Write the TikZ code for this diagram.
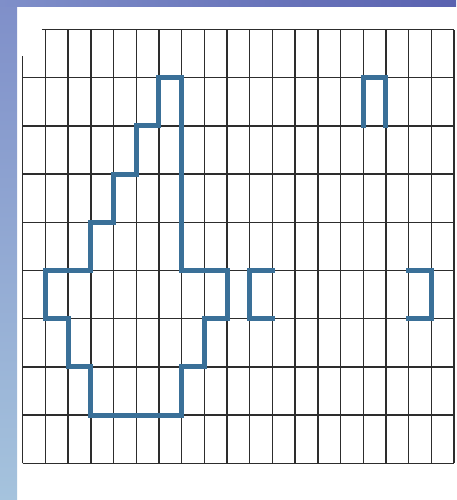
\documentclass[tikz,border=0pt]{standalone}
\definecolor{penblue}{RGB}{58,112,152}
\definecolor{gridgray}{RGB}{45,45,45}
\definecolor{frameA}{RGB}{127,143,201}
\definecolor{frameB}{RGB}{165,195,221}
\definecolor{frameC}{RGB}{90,98,176}
% open blue box: corner points in grid units
\newcommand{\penbox}[4]{
    \draw[pen] (#1) -- (#2) -- (#3) -- (#4);
}
\tikzset{
  pen/.style={penblue, line width=2.5pt, line cap=rect, line join=miter},
  gridline/.style={gridgray, line width=0.7pt}
}
\begin{document}
\begin{tikzpicture}[x=11.35pt, y=24.1pt]
  \useasboundingbox (-1,-0.761) rectangle (19.088,9.612);
  \fill[white] (-1,-0.761) rectangle (19.088,9.612);

  % frame of the slide
  \shade[top color=frameA, bottom color=frameB] (-1,-0.761) rectangle (-0.251,9.612);
  \shade[left color=frameA, right color=frameC] (-1,9.467) rectangle (19.088,9.612);

  % grid, 19 x 9 cells
  \foreach \i in {1,...,19}
    \draw[gridline] (\i,0) -- (\i,9);
  \draw[gridline] (0,0) -- (0,8.45);
  \foreach \j in {0,...,8}
    \draw[gridline] (0,\j) -- (19,\j);
  \draw[gridline] (0.85,9) -- (19,9);

  % the figure
  \draw[pen] (6,8) -- (7,8) -- (7,4) -- (9,4) -- (9,3) -- (8,3) -- (8,2)
    -- (7,2) -- (7,1) -- (3,1) -- (3,2) -- (2,2) -- (2,3) -- (1,3)
    -- (1,4) -- (3,4) -- (3,5) -- (4,5) -- (4,6) -- (5,6) -- (5,7)
    -- (6,7) -- cycle;

  \penbox{11,4}{10,4}{10,3}{11,3}
  \penbox{17,4}{18,4}{18,3}{17,3}
  \penbox{15,7}{15,8}{16,8}{16,7}
\end{tikzpicture}
\end{document}
